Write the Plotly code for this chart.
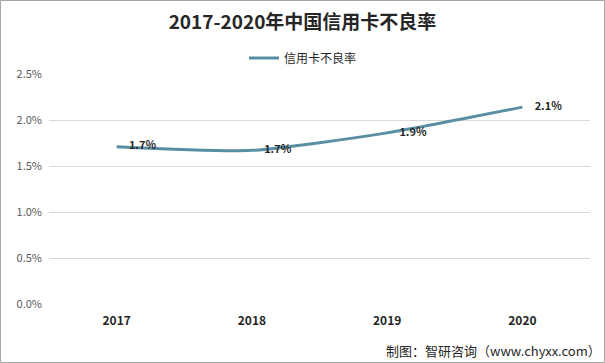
import plotly.graph_objects as go

years = ["2017", "2018", "2019", "2020"]
rates = [1.71, 1.67, 1.86, 2.14]
labels = ["1.7%", "1.7%", "1.9%", "2.1%"]
y_ticks = [0.0, 0.5, 1.0, 1.5, 2.0, 2.5]
y_ticktext = ["0.0%", "0.5%", "1.0%", "1.5%", "2.0%", "2.5%"]

W, H = 605, 363
ml, mr, mt, mb = 49, 15, 74, 59
pw, ph = W - ml - mr, H - mt - mb

def px(x):
    return (x - ml) / pw

def py(y):
    return (H - mb - y) / ph

fig = go.Figure()
fig.add_trace(go.Scatter(
    x=years, y=rates, mode="lines+markers+text", name="信用卡不良率",
    line=dict(color="#5A8EA5", width=3, shape="spline", smoothing=0.6),
    marker=dict(size=18, color="rgba(0,0,0,0)", line=dict(width=0)),
    text=labels, textposition="middle right",
    textfont=dict(family="Noto Sans CJK SC, Arial", size=11, color="#262626", weight="bold"),
))

fig.update_layout(
    width=W, height=H,
    margin=dict(l=ml, r=mr, t=mt, b=mb),
    paper_bgcolor="white", plot_bgcolor="white",
    font=dict(family="Noto Sans CJK SC, Arial", color="#595959"),
    title=dict(text="<b>2017-2020年中国信用卡不良率</b>", x=0.5, xanchor="center",
               y=1 - 22 / H, yanchor="middle",
               font=dict(size=19, color="#262626", family="Noto Sans CJK SC")),
    showlegend=True,
    legend=dict(orientation="h", x=px(303), xanchor="center", y=py(58), yanchor="middle",
                font=dict(size=12, color="#262626"), itemwidth=30, bgcolor="rgba(0,0,0,0)"),
    xaxis=dict(type="category", range=[-0.5, 3.5], showgrid=False, showline=False,
               zeroline=False, ticks="",
               tickfont=dict(size=12, color="#262626", weight="bold"), ticklabelstandoff=8),
    yaxis=dict(range=[0, 2.5], tickvals=y_ticks, ticktext=y_ticktext,
               showgrid=True, gridcolor="#D9D9D9", gridwidth=1, zeroline=False,
               showline=False, tickfont=dict(size=11, color="#595959"), ticklabelstandoff=6),
    shapes=[dict(type="rect", xref="paper", yref="paper",
                 x0=px(0.5), x1=px(W - 0.5), y0=py(H - 0.5), y1=py(0.5),
                 line=dict(color="#A6A6A6", width=1), fillcolor="rgba(0,0,0,0)", layer="below")],
    annotations=[dict(text="制图：智研咨询（www.chyxx.com）", xref="paper", yref="paper",
                      x=px(603), y=py(350), xanchor="right", yanchor="middle", showarrow=False,
                      font=dict(size=13, color="#262626"))],
)

fig.write_html("out.html", config={"displayModeBar": False},
               post_script="document.body.style.margin='0';")
